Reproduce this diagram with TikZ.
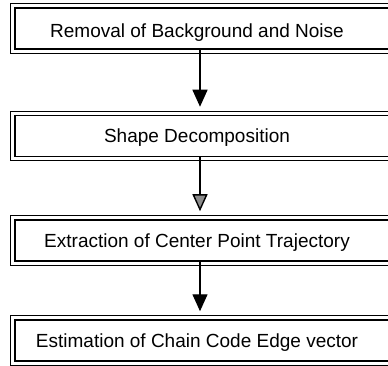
\documentclass[tikz,border=0pt]{standalone}
\usepackage{fontspec}
\setmainfont{Liberation Sans}
\usetikzlibrary{arrows.meta}
\tikzset{
  stage/.style={draw, line width=1.5pt, minimum width=382pt, minimum height=41pt,
    inner sep=0pt, font=\fontsize{19}{22}\selectfont},
  frame/.style={line width=0.7pt},
  flow/.style={line width=1.4pt, -{Triangle[length=17pt,width=15pt]}, shorten >=8pt},
  flowgray/.style={flow, -{Triangle[length=17pt,width=15pt,fill=black!45]}}
}
\newcommand{\stagetext}[2][-6.8pt]{\hspace*{-18pt}\raisebox{#1}[0pt][0pt]{#2}}
\begin{document}
\begin{tikzpicture}[x=1pt,y=1pt]
\useasboundingbox (0,0) rectangle (388,-366);
\clip (0,0) rectangle (388,-366);
\node[stage] (a) at (206,-28.5) {\stagetext[-9.5pt]{Removal\ of\ Background\ and\ Noise}};
\node[stage] (b) at (206,-136) {\stagetext{Shape\ Decomposition}};
\node[stage] (c) at (206,-240.5) {\stagetext{Extraction\ of\ Center\ Point\ Trajectory}};
\node[stage] (d) at (206,-340.5) {\stagetext{Estimation\ of\ Chain\ Code\ Edge\ vector}};
\foreach \n in {a,b,c,d}{
  \draw[frame] ([shift={(-3.5pt,3.5pt)}]\n.north west) rectangle ([shift={(3.5pt,-3.5pt)}]\n.south east);
}
\coordinate (ax) at (200,0);
\draw[flow] (a.south -| ax) -- (b.north -| ax);
\draw[flowgray] (b.south -| ax) -- (c.north -| ax);
\draw[flow] (c.south -| ax) -- (d.north -| ax);
\end{tikzpicture}
\end{document}
